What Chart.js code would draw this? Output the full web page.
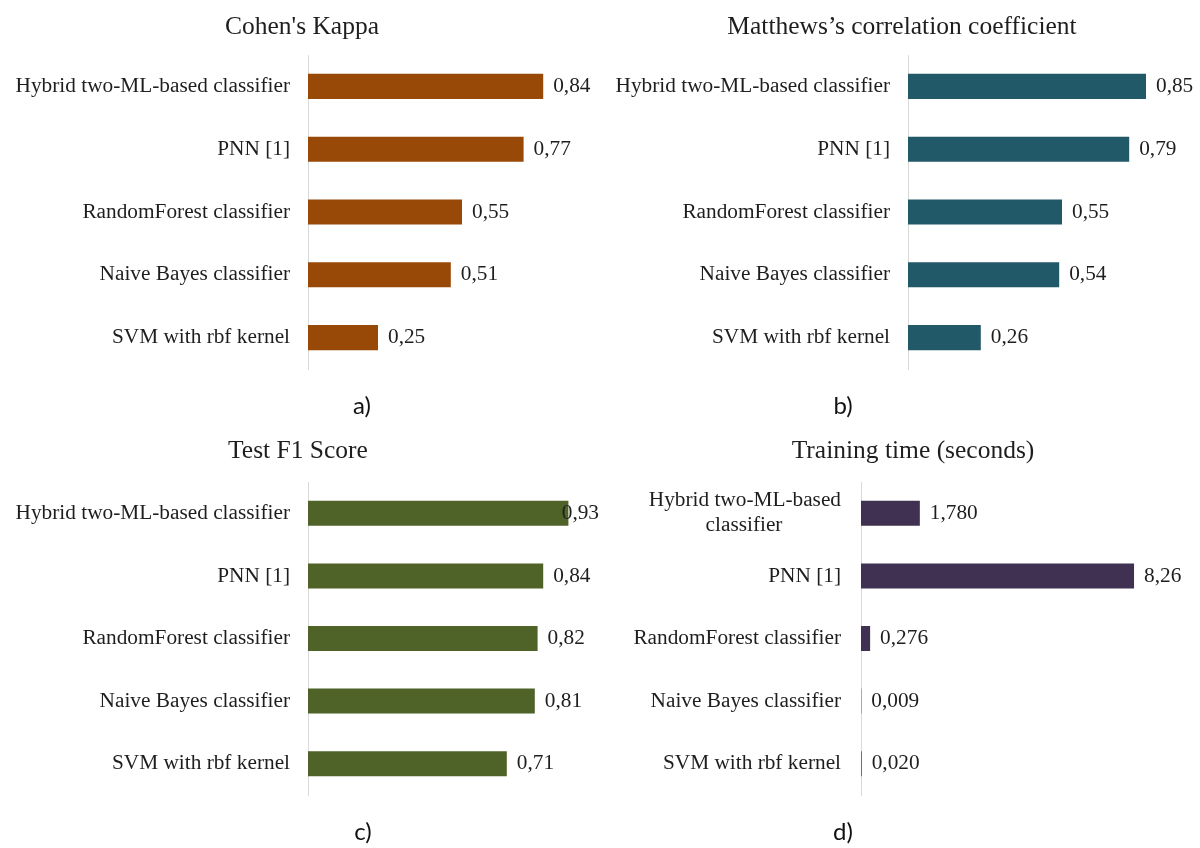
<!DOCTYPE html>
<html>
<head>
<meta charset="utf-8">
<script src="https://cdn.jsdelivr.net/npm/chart.js@4/dist/chart.umd.min.js"></script>
<style>
  html, body { margin: 0; padding: 0; background: #ffffff; overflow: hidden; }
  #figure { position: relative; width: 1200px; height: 848px; }
  .panel { position: absolute; width: 600px; height: 424px; }
  .caption {
    position: absolute; transform: translate(-50%, -50%);
    font-family: Lato, "Open Sans", sans-serif; font-size: 24px; color: #111;
    line-height: 1;
  }
</style>
</head>
<body>
<div id="figure">
  <div class="panel" style="left:0;top:0"><canvas id="kappa" width="600" height="424"></canvas></div>
  <div class="panel" style="left:600px;top:0"><canvas id="mcc" width="600" height="424"></canvas></div>
  <div class="panel" style="left:0;top:424px"><canvas id="f1" width="600" height="424"></canvas></div>
  <div class="panel" style="left:600px;top:424px"><canvas id="time" width="600" height="424"></canvas></div>
  <div class="caption" style="left:362px;top:405px">a)</div>
  <div class="caption" style="left:843px;top:405px">b)</div>
  <div class="caption" style="left:363px;top:831px">c)</div>
  <div class="caption" style="left:843px;top:831px">d)</div>
</div>
<script>
// Classifier names (the training-time panel wraps the first one onto two lines)
const classifiers = ['Hybrid two-ML-based classifier', 'PNN [1]', 'RandomForest classifier', 'Naive Bayes classifier', 'SVM with rbf kernel'];
const classifiersWrapped = [['Hybrid two-ML-based', 'classifier'], 'PNN [1]', 'RandomForest classifier', 'Naive Bayes classifier', 'SVM with rbf kernel'];

// Metric values per classifier
const kappaValues = [0.84, 0.77, 0.55, 0.51, 0.25];
const mccValues = [0.85, 0.79, 0.55, 0.54, 0.26];
const f1Values = [0.93, 0.84, 0.82, 0.81, 0.71];
const trainingSeconds = [1.780, 8.26, 0.276, 0.009, 0.020];

// Decimal places shown in each value label
const scoreDigits = [2, 2, 2, 2, 2];
const trainingDigits = [3, 2, 3, 3, 3];

const SERIF = '"Liberation Serif", "Times New Roman", serif';
const LABEL_SIZE = 21.3;
const TEXT_COLOR = '#1e1e1e';

Chart.defaults.font.family = SERIF;
Chart.defaults.color = TEXT_COLOR;

// Pads the shorter lines of a wrapped label so every line sits centred
// under the widest one when the axis right-aligns them.
const measureCtx = document.createElement('canvas').getContext('2d');
function centreLines(label) {
  if (!Array.isArray(label)) return label;
  measureCtx.font = LABEL_SIZE + 'px ' + SERIF;
  const widths = label.map(l => measureCtx.measureText(l).width);
  const widest = Math.max(...widths);
  const pad = measureCtx.measureText('\u00A0').width;
  return label.map((l, i) => l + '\u00A0'.repeat(Math.round((widest - widths[i]) / 2 / pad)));
}

// Writes each bar's value just past its end, kept inside the canvas
const valueLabels = {
  id: 'valueLabels',
  afterDatasetsDraw(chart, args, opts) {
    const ctx = chart.ctx;
    const ds = chart.data.datasets[0];
    const meta = chart.getDatasetMeta(0);
    ctx.save();
    ctx.font = LABEL_SIZE + 'px ' + SERIF;
    ctx.fillStyle = TEXT_COLOR;
    ctx.textBaseline = 'middle';
    ctx.textAlign = 'left';
    meta.data.forEach((bar, i) => {
      const text = ds.data[i].toFixed(opts.digits[i]).replace('.', ',');
      const w = ctx.measureText(text).width;
      let x = bar.x + 10;
      if (x + w > chart.width - 1) x = chart.width - 1 - w;
      ctx.fillText(text, x, bar.y);
    });
    ctx.restore();
  }
};

// Moves the title block sideways so the heading sits over the panel's middle
const titleOffset = {
  id: 'titleOffset',
  afterLayout(chart, args, opts) {
    const block = chart.titleBlock;
    if (block && opts.shift) {
      block.left += opts.shift;
      block.right += opts.shift;
    }
  }
};

function makeChart(id, cfg) {
  return new Chart(document.getElementById(id), {
    type: 'bar',
    data: {
      labels: cfg.labels,
      datasets: [{
        data: cfg.values,
        backgroundColor: cfg.color,
        borderWidth: 0,
        barPercentage: 0.4,
        categoryPercentage: 1
      }]
    },
    options: {
      indexAxis: 'y',
      responsive: false,
      animation: false,
      devicePixelRatio: 1,
      layout: { padding: { left: 0, right: cfg.padR, top: 0, bottom: cfg.padB } },
      scales: {
        x: { display: false, min: 0, max: cfg.max },
        y: {
          grid: { display: false, drawTicks: false },
          border: { display: true, color: '#d9d9d9', width: 1 },
          ticks: {
            padding: cfg.tickPad,
            font: { size: LABEL_SIZE, family: SERIF, lineHeight: 1.18 },
            color: TEXT_COLOR,
            callback: function (value, index) { return centreLines(this.chart.data.labels[index]); }
          },
          afterFit: scale => { scale.width = cfg.axisWidth; }
        }
      },
      plugins: {
        legend: { display: false },
        tooltip: { enabled: false },
        title: {
          display: true,
          text: cfg.title,
          color: TEXT_COLOR,
          font: { size: 25.5, family: SERIF, weight: 'normal', lineHeight: 1.2 },
          padding: { top: cfg.titleTop, bottom: cfg.titleBottom }
        },
        titleOffset: { shift: cfg.titleShift },
        valueLabels: { digits: cfg.digits }
      }
    },
    plugins: [valueLabels, titleOffset]
  });
}

makeChart('kappa', {
  title: "Cohen's Kappa", labels: classifiers, values: kappaValues, digits: scoreDigits,
  color: '#984807', max: 1, padR: 12, padB: 55, axisWidth: 308, tickPad: 18,
  titleTop: 11.5, titleBottom: 12.9, titleShift: 8
});
makeChart('mcc', {
  title: 'Matthews\u2019s correlation coefficient', labels: classifiers, values: mccValues, digits: scoreDigits,
  color: '#215968', max: 1, padR: 12, padB: 55, axisWidth: 308, tickPad: 18,
  titleTop: 11.5, titleBottom: 12.9, titleShift: 8
});
makeChart('f1', {
  title: 'Test F1 Score', labels: classifiers, values: f1Values, digits: scoreDigits,
  color: '#4F6228', max: 1, padR: 12, padB: 53, axisWidth: 308, tickPad: 18,
  titleTop: 12.2, titleBottom: 15.2, titleShift: 4
});
makeChart('time', {
  title: 'Training time (seconds)', labels: classifiersWrapped, values: trainingSeconds, digits: trainingDigits,
  color: '#403152', max: 9, padR: 41.5, padB: 53, axisWidth: 261, tickPad: 20,
  titleTop: 12.2, titleBottom: 15.2, titleShift: 33.75
});
</script>
</body>
</html>
